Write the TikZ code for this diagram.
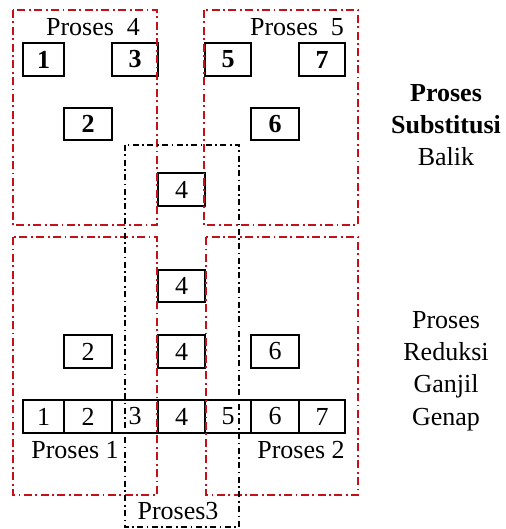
\documentclass[tikz,border=0pt]{standalone}
\usepackage{fontspec}
\setmainfont{Liberation Serif}
\definecolor{framered}{RGB}{196,16,24}
\tikzset{
  cell/.style={draw=black, line width=1.5pt, inner sep=0pt, minimum height=33pt, font=\fontsize{26}{30}\selectfont},
  bcell/.style={cell, font=\fontsize{26}{30}\selectfont\bfseries},
  redframe/.style={draw=framered, line width=1.6pt, dash pattern=on 8pt off 3.5pt on 1.8pt off 3.5pt},
  blackframe/.style={draw=black, line width=1.4pt, dash pattern=on 6pt off 3.5pt on 1.6pt off 3.5pt},
  lbl/.style={inner sep=0pt, anchor=base, font=\fontsize{26}{30}\selectfont},
  side/.style={inner sep=0pt, anchor=base, align=center, font=\fontsize{26}{32.3}\selectfont}
}
\begin{document}
\begin{tikzpicture}[x=1pt,y=-1pt]
\useasboundingbox (0,0) rectangle (505,529);
% top boxes
\node[bcell, minimum width=41pt] (t1) at (43.5,59.5) {1};
\node[bcell, minimum width=46pt] (t3) at (135,59.5) {3};
\node[bcell, minimum width=46pt] (t5) at (228,59.5) {5};
\node[bcell, minimum width=46pt] (t7) at (322,59.5) {7};
\node[bcell, minimum width=48pt, minimum height=32pt] (t2) at (88,124) {2};
\node[bcell, minimum width=48pt, minimum height=32pt] (t6) at (275,124) {6};
\node[cell, minimum width=47pt] (t4) at (181.5,189.5) {4};
% bottom boxes
\node[cell, minimum width=47pt, minimum height=32pt] (m4a) at (181.5,286) {4};
\node[cell, minimum width=48pt] (m2) at (88,351.5) {2};
\node[cell, minimum width=47pt] (m4b) at (181.5,351.5) {4};
\node[cell, minimum width=48pt] (m6) at (275,351.5) {6};
% row
\node[cell, minimum width=41pt] (r1) at (43.5,416.5) {1};
\node[cell, minimum width=48pt] (r2) at (88,416.5) {2};
\node[cell, minimum width=46pt] (r3) at (135,416.5) {3};
\node[cell, minimum width=47pt] (r4) at (181.5,416.5) {4};
\node[cell, minimum width=46pt] (r5) at (228,416.5) {5};
\node[cell, minimum width=48pt] (r6) at (275,416.5) {6};
\node[cell, minimum width=46pt] (r7) at (322,416.5) {7};
% frames
\draw[redframe] (13,10) rectangle (157,225);
\draw[redframe] (204,10) rectangle (358,225);
\draw[redframe] (13,237) rectangle (157,495);
\draw[redframe] (206,237) rectangle (358,495);
\draw[blackframe] (125,145) rectangle (239,527);
% labels
\node[lbl] (p4) at (93,36) {Proses\ \ 4};
\node[lbl] (p5) at (297,36) {Proses\ \ 5};
\node[lbl] (p1) at (75,458) {Proses 1};
\node[lbl] (p2) at (301,458) {Proses 2};
\node[lbl] (p3) at (178,519) {Proses3};
\node[side] (sb) at (446,166) {\textbf{Proses}\\\textbf{Substitusi}\\Balik};
\node[side] (rg) at (446,425) {Proses\\Reduksi\\Ganjil\\Genap};
\end{tikzpicture}
\end{document}
